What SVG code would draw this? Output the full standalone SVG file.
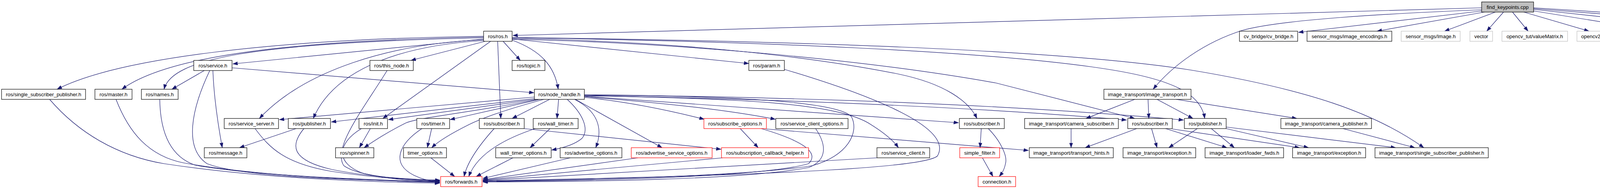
<svg xmlns="http://www.w3.org/2000/svg" width="5107" height="485" viewBox="0 0 5107 485">
<style>
.n rect{fill:#fff;stroke:#000;stroke-width:1.2}
.n.g rect{stroke:#bfbfbf}
.n.r rect{stroke:#ff0000}
.n.root rect{fill:#bfbfbf}
.n text{font-family:"Liberation Sans",Arial,sans-serif;font-size:13px;text-anchor:middle;fill:#000}
.e path{fill:none;stroke:#191970;stroke-width:1.2;marker-end:url(#a)}
</style>
<defs>
<marker id="a" markerUnits="userSpaceOnUse" markerWidth="14" markerHeight="10" refX="12.5" refY="4.5" orient="auto">
<path d="M0,0 L12.5,4.5 L0,9 z" fill="#191970" stroke="#191970" stroke-width="0.5"/>
</marker>
</defs>
<rect width="5107" height="485" fill="#fff"/>
<g id="connectors" class="e">
<path d="M3793,20 L1313,91"/>
<path d="M3793,25 C3550,35 3280,50 3180,78 C3080,110 3000,170 2952,229"/>
<path d="M3795,28 L3324,83"/>
<path d="M3800,31 L3525,80"/>
<path d="M3828,31 L3698,80"/>
<path d="M3849,31 L3806,80"/>
<path d="M3872,31 L3912,80"/>
<path d="M3901,31 L4068,80"/>
<path d="M3926,28 L4246,80"/>
<path d="M3926,24 L4465,83"/>
<path d="M3926,22 L4696,83"/>
<path d="M3926,20 L4909,83"/>
<path d="M1238,93 C700,100 300,150 146,229"/>
<path d="M1238,95 C700,105 420,150 312,229"/>
<path d="M1238,97 C650,110 440,150 420,229"/>
<path d="M1238,100 L596,164"/>
<path d="M1238,102 C1000,112 780,180 664,304"/>
<path d="M1240,104 C1000,118 850,190 802,304"/>
<path d="M1242,106 L1052,155"/>
<path d="M1288,106 L1332,155"/>
<path d="M1311,103 C1385,130 1420,170 1429,229"/>
<path d="M1256,106 L980,304"/>
<path d="M1274,106 L1282,304"/>
<path d="M1311,100 L1917,163"/>
<path d="M1311,99 C1700,105 2050,140 2300,190 C2420,215 2480,260 2501,304"/>
<path d="M1311,97 C1900,105 2550,130 2850,180 C3000,205 3075,240 3084,304"/>
<path d="M1311,96 C2000,105 2700,125 3050,180 C3350,230 3520,290 3645,379"/>
<path d="M1311,101 C1700,108 2200,150 2550,213 L2905,304"/>
<path d="M594,174 L1367,238"/>
<path d="M523,181 L440,229"/>
<path d="M545,181 C548,260 560,330 569,379"/>
<path d="M537,181 C490,280 470,380 530,420 C620,455 900,462 1126,466"/>
<path d="M127,255 C200,340 300,400 420,420 C650,455 900,466 1126,470"/>
<path d="M297,255 C330,340 380,400 470,418 C650,450 900,462 1126,468"/>
<path d="M409,255 C410,330 430,400 500,424 C650,450 900,460 1126,467"/>
<path d="M653,330 C690,380 730,420 850,440 C950,455 1050,462 1126,464"/>
<path d="M758,330 L613,379"/>
<path d="M778,330 C745,370 740,410 850,435 C950,455 1050,460 1126,463"/>
<path d="M991,181 C930,280 850,380 880,425 C920,455 1050,462 1126,462"/>
<path d="M948,330 L920,379"/>
<path d="M925,330 C860,370 860,420 930,445 C1000,462 1070,464 1126,465"/>
<path d="M1105,330 L1094,379"/>
<path d="M1080,330 C1020,370 1000,420 1060,450 C1085,462 1105,466 1126,468"/>
<path d="M1265,330 C1220,380 1195,420 1188,453"/>
<path d="M1342,330 L1846,383"/>
<path d="M1408,330 L1357,379"/>
<path d="M1370,330 C1280,360 1220,400 1200,453"/>
<path d="M1103,405 L1164,453"/>
<path d="M1313,405 L1219,453"/>
<path d="M1460,405 L1236,458"/>
<path d="M1633,405 L1236,461"/>
<path d="M1368,249 L715,307"/>
<path d="M1368,253 L848,313"/>
<path d="M1370,255 L994,307"/>
<path d="M1378,255 C1200,290 1080,300 1040,315 C990,340 960,360 932,379"/>
<path d="M1382,255 L1152,307"/>
<path d="M1392,255 C1300,280 1240,300 1200,320 C1160,340 1125,360 1105,379"/>
<path d="M1407,255 L1311,304"/>
<path d="M1430,255 L1426,304"/>
<path d="M1452,255 C1490,290 1510,330 1490,355 C1470,372 1440,380 1412,385"/>
<path d="M1471,255 C1530,285 1545,330 1525,379"/>
<path d="M1473,255 L1695,379"/>
<path d="M1496,250 C1600,260 1700,280 1803,306"/>
<path d="M1496,248 C1700,265 1850,280 1985,306"/>
<path d="M1496,247 L2454,315"/>
<path d="M1496,245 C2000,255 2500,275 2884,308"/>
<path d="M1496,243 C2100,250 2600,270 3030,308"/>
<path d="M1496,246 C1900,252 2150,265 2230,320 C2270,345 2290,365 2300,379"/>
<path d="M1496,244 C1900,246 2150,262 2180,300 C2200,340 2170,400 2080,425 C1900,455 1400,463 1236,465"/>
<path d="M2088,330 C2115,370 2120,410 2070,430 C1900,462 1500,466 1236,467"/>
<path d="M1895,330 L1941,379"/>
<path d="M1949,330 C2050,360 2100,390 2070,420 C1950,455 1500,464 1236,466"/>
<path d="M1962,331 L2633,386"/>
<path d="M1850,405 L1236,462"/>
<path d="M2245,405 L1236,463"/>
<path d="M2008,178 C2250,250 2440,330 2400,400 C2370,430 2000,450 1236,464"/>
<path d="M2512,330 L2509,379"/>
<path d="M2530,330 C2560,360 2580,400 2574,420 C2570,440 2562,448 2558,453"/>
<path d="M2515,405 L2542,453"/>
<path d="M2905,255 L2780,304"/>
<path d="M2939,255 L2941,304"/>
<path d="M2962,255 L3054,304"/>
<path d="M3011,255 L3320,304"/>
<path d="M2742,330 L2742,379"/>
<path d="M2910,330 L2778,379"/>
<path d="M2948,330 L2962,379"/>
<path d="M2984,330 L3141,379"/>
<path d="M3001,331 L3327,379"/>
<path d="M3065,330 L2992,379"/>
<path d="M3101,330 L3160,379"/>
<path d="M3139,330 L3350,379"/>
<path d="M3139,326 L3573,379"/>
<path d="M3438,330 L3622,379"/>
</g>
<g id="n0" class="n root"><rect x="3793" y="5" width="133" height="26"/><text x="3859.5" y="22.5">find_keypoints.cpp</text></g>
<g id="n1" class="n"><rect x="1238" y="80" width="73" height="26"/><text x="1274.5" y="97.5">ros/ros.h</text></g>
<g id="n2" class="n"><rect x="3173" y="80" width="149" height="26"/><text x="3247.5" y="97.5">cv_bridge/cv_bridge.h</text></g>
<g id="n3" class="n"><rect x="3346" y="80" width="217" height="26"/><text x="3454.5" y="97.5">sensor_msgs/image_encodings.h</text></g>
<g id="n4" class="n g"><rect x="3587" y="80" width="151" height="26"/><text x="3662.5" y="97.5">sensor_msgs/Image.h</text></g>
<g id="n5" class="n g"><rect x="3763" y="80" width="58" height="26"/><text x="3792" y="97.5">vector</text></g>
<g id="n6" class="n g"><rect x="3845" y="80" width="168" height="26"/><text x="3929" y="97.5">opencv_tut/valueMatrix.h</text></g>
<g id="n7" class="n g"><rect x="4037" y="80" width="154" height="26"/><text x="4114" y="97.5">opencv2/core/core.hpp</text></g>
<g id="n8" class="n g"><rect x="4216" y="80" width="225" height="26"/><text x="4328.5" y="97.5">opencv2/features2d/features2d.hpp</text></g>
<g id="n9" class="n g"><rect x="4465" y="80" width="206" height="26"/><text x="4568" y="97.5">opencv2/nonfree/features2d.hpp</text></g>
<g id="n10" class="n g"><rect x="4696" y="80" width="189" height="26"/><text x="4790.5" y="97.5">opencv2/nonfree/nonfree.hpp</text></g>
<g id="n11" class="n g"><rect x="4909" y="80" width="186" height="26"/><text x="5002" y="97.5">opencv2/highgui/highgui.hpp</text></g>
<g id="n12" class="n"><rect x="496" y="155" width="98" height="26"/><text x="545" y="172.5">ros/service.h</text></g>
<g id="n13" class="n"><rect x="947" y="155" width="111" height="26"/><text x="1002.5" y="172.5">ros/this_node.h</text></g>
<g id="n14" class="n"><rect x="1311" y="155" width="84" height="26"/><text x="1353" y="172.5">ros/topic.h</text></g>
<g id="n15" class="n"><rect x="1917" y="155" width="91" height="26"/><text x="1962.5" y="172.5">ros/param.h</text></g>
<g id="n16" class="n"><rect x="4" y="229" width="215" height="26"/><text x="111.5" y="246.5">ros/single_subscriber_publisher.h</text></g>
<g id="n17" class="n"><rect x="243" y="229" width="95" height="26"/><text x="290.5" y="246.5">ros/master.h</text></g>
<g id="n18" class="n"><rect x="362" y="229" width="94" height="26"/><text x="409" y="246.5">ros/names.h</text></g>
<g id="n19" class="n"><rect x="1368" y="229" width="128" height="26"/><text x="1432" y="246.5">ros/node_handle.h</text></g>
<g id="n20" class="n"><rect x="2826" y="229" width="223" height="26"/><text x="2937.5" y="246.5">image_transport/image_transport.h</text></g>
<g id="n21" class="n"><rect x="574" y="304" width="139" height="26"/><text x="643.5" y="321.5">ros/service_server.h</text></g>
<g id="n22" class="n"><rect x="738" y="304" width="108" height="26"/><text x="792" y="321.5">ros/publisher.h</text></g>
<g id="n23" class="n"><rect x="919" y="304" width="73" height="26"/><text x="955.5" y="321.5">ros/init.h</text></g>
<g id="n24" class="n"><rect x="1067" y="304" width="84" height="26"/><text x="1109" y="321.5">ros/timer.h</text></g>
<g id="n25" class="n"><rect x="1227" y="304" width="115" height="26"/><text x="1284.5" y="321.5">ros/subscriber.h</text></g>
<g id="n26" class="n"><rect x="1365" y="304" width="115" height="26"/><text x="1422.5" y="321.5">ros/wall_timer.h</text></g>
<g id="n27" class="n r"><rect x="1802" y="304" width="160" height="26"/><text x="1882" y="321.5">ros/subscribe_options.h</text></g>
<g id="n28" class="n"><rect x="1986" y="304" width="185" height="26"/><text x="2078.5" y="321.5">ros/service_client_options.h</text></g>
<g id="n29" class="n"><rect x="2456" y="304" width="115" height="26"/><text x="2513.5" y="321.5">ros/subscriber.h</text></g>
<g id="n30" class="n"><rect x="2623" y="304" width="240" height="26"/><text x="2743" y="321.5">image_transport/camera_subscriber.h</text></g>
<g id="n31" class="n"><rect x="2887" y="304" width="114" height="26"/><text x="2944" y="321.5">ros/subscriber.h</text></g>
<g id="n32" class="n"><rect x="3032" y="304" width="107" height="26"/><text x="3085.5" y="321.5">ros/publisher.h</text></g>
<g id="n33" class="n"><rect x="3279" y="304" width="232" height="26"/><text x="3395" y="321.5">image_transport/camera_publisher.h</text></g>
<g id="n34" class="n"><rect x="523" y="379" width="109" height="26"/><text x="577.5" y="396.5">ros/message.h</text></g>
<g id="n35" class="n"><rect x="859" y="379" width="98" height="26"/><text x="908" y="396.5">ros/spinner.h</text></g>
<g id="n36" class="n"><rect x="1033" y="379" width="110" height="26"/><text x="1088" y="396.5">timer_options.h</text></g>
<g id="n37" class="n"><rect x="1269" y="379" width="142" height="26"/><text x="1340" y="396.5">wall_timer_options.h</text></g>
<g id="n38" class="n"><rect x="1434" y="379" width="158" height="26"/><text x="1513" y="396.5">ros/advertise_options.h</text></g>
<g id="n39" class="n r"><rect x="1616" y="379" width="207" height="26"/><text x="1719.5" y="396.5">ros/advertise_service_options.h</text></g>
<g id="n40" class="n r"><rect x="1847" y="379" width="223" height="26"/><text x="1958.5" y="396.5">ros/subscription_callback_helper.h</text></g>
<g id="n41" class="n"><rect x="2245" y="379" width="135" height="26"/><text x="2312.5" y="396.5">ros/service_client.h</text></g>
<g id="n42" class="n r"><rect x="2457" y="379" width="102" height="26"/><text x="2508" y="396.5">simple_filter.h</text></g>
<g id="n43" class="n"><rect x="2635" y="379" width="215" height="26"/><text x="2742.5" y="396.5">image_transport/transport_hints.h</text></g>
<g id="n44" class="n"><rect x="2875" y="379" width="186" height="26"/><text x="2968" y="396.5">image_transport/exception.h</text></g>
<g id="n45" class="n"><rect x="3085" y="379" width="201" height="26"/><text x="3185.5" y="396.5">image_transport/loader_fwds.h</text></g>
<g id="n46" class="n"><rect x="3309" y="379" width="187" height="26"/><text x="3402.5" y="396.5">image_transport/exception.h</text></g>
<g id="n47" class="n"><rect x="3520" y="379" width="290" height="26"/><text x="3665" y="396.5">image_transport/single_subscriber_publisher.h</text></g>
<g id="n48" class="n r"><rect x="1128" y="453" width="106" height="26"/><text x="1181" y="470.5">ros/forwards.h</text></g>
<g id="n49" class="n r"><rect x="2504" y="453" width="96" height="26"/><text x="2552" y="470.5">connection.h</text></g>
</svg>
